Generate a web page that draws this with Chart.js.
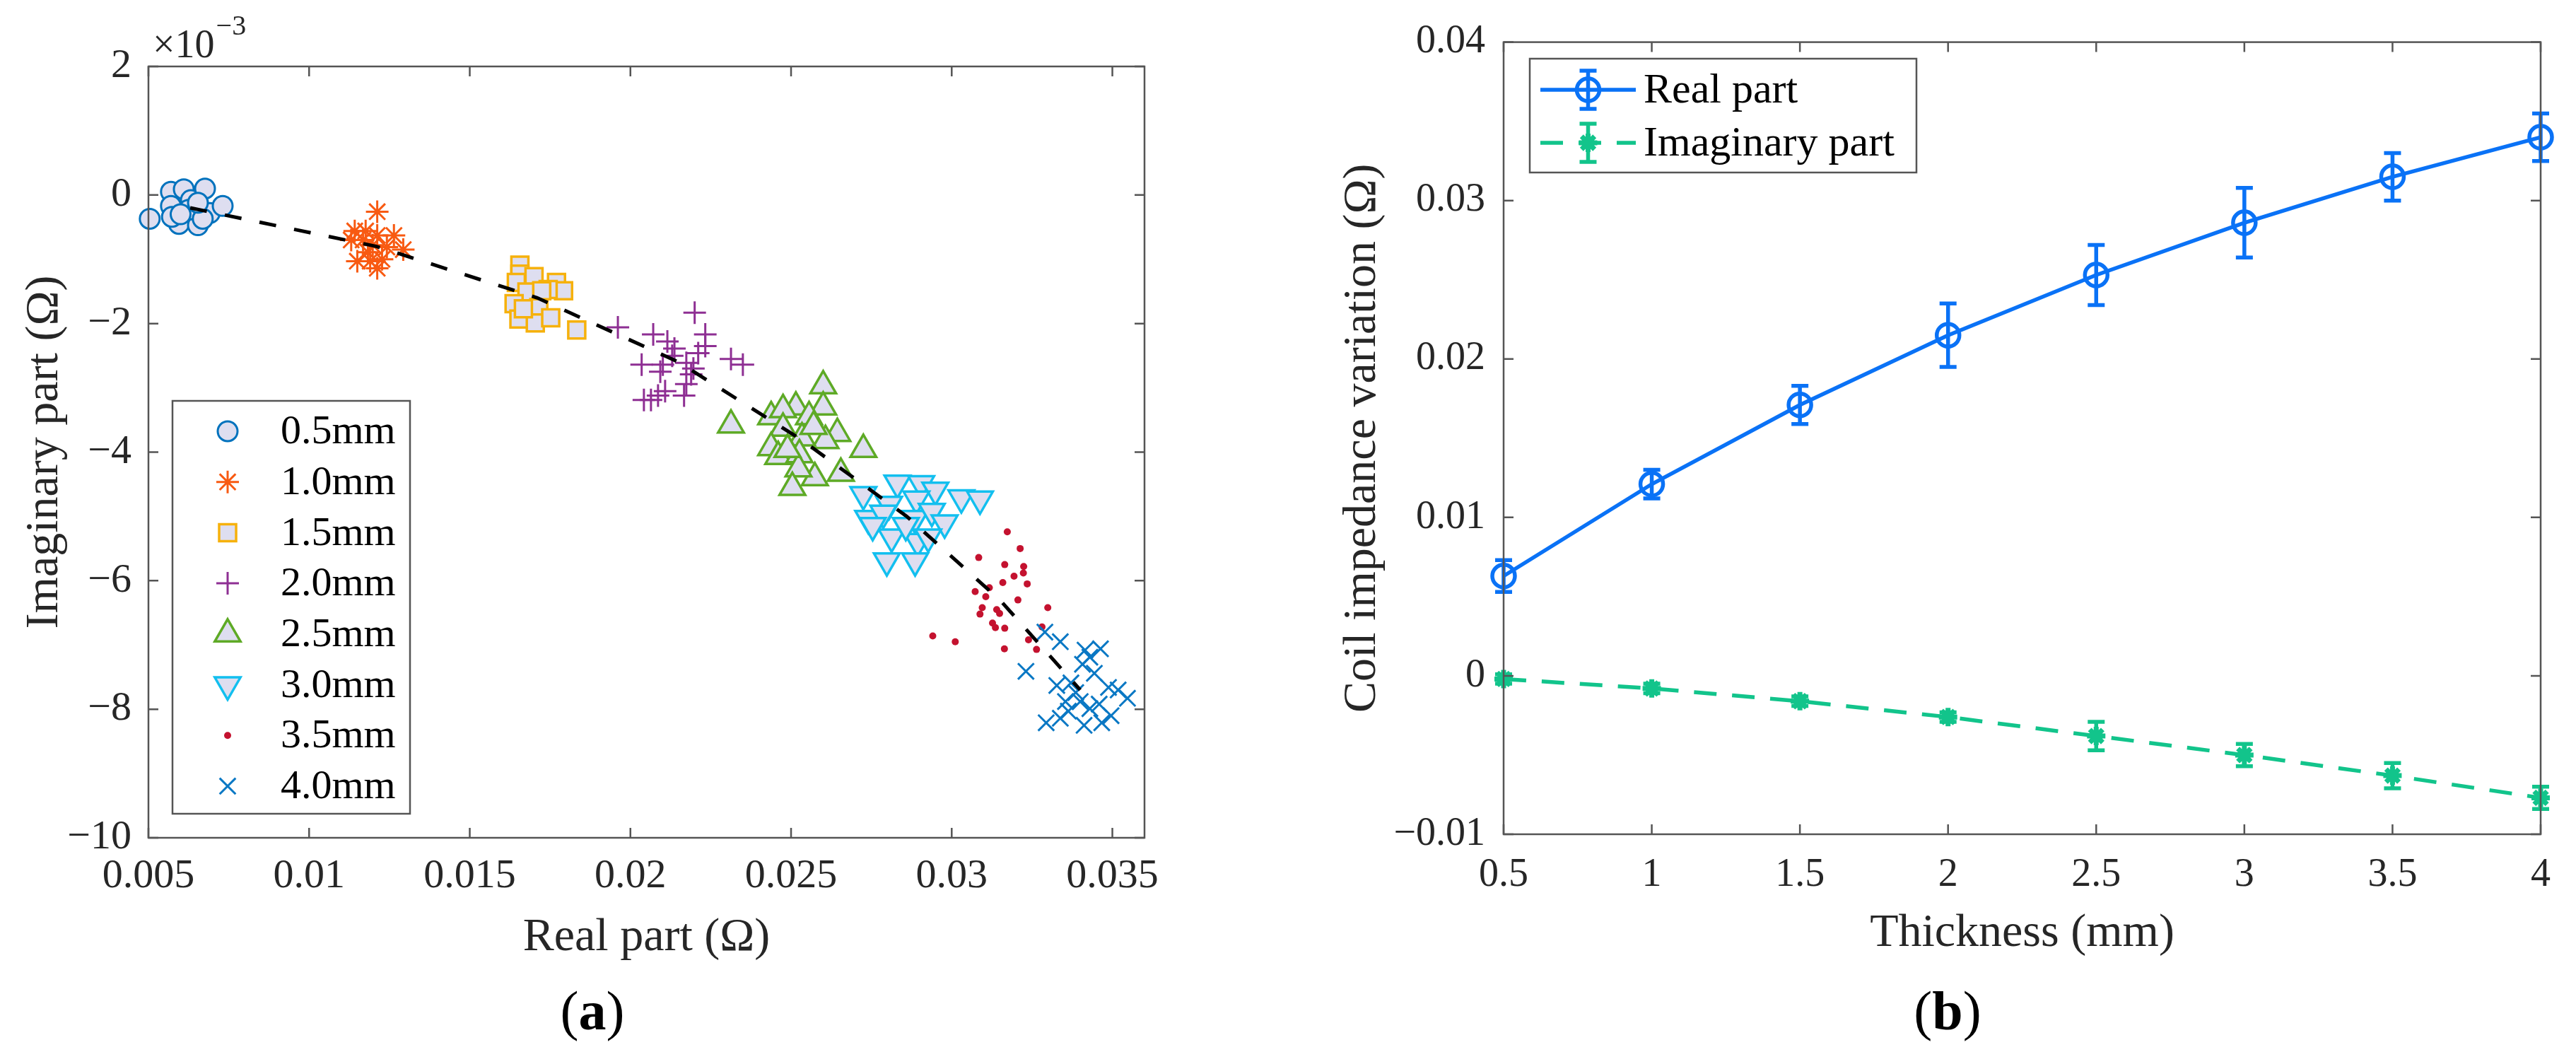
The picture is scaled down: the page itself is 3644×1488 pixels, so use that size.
<!DOCTYPE html>
<html lang="en">
<head>
<meta charset="UTF-8">
<title>Coil impedance variation vs. thickness</title>
<script src="https://cdn.jsdelivr.net/npm/chart.js@4.4.1/dist/chart.umd.min.js"></script>
<style>
  html, body { margin: 0; padding: 0; background: #fff; }
  body { width: 3644px; height: 1488px; position: relative; overflow: hidden; font-family: 'Liberation Serif', 'Times New Roman', serif; }
  canvas { position: absolute; top: 0; }
  #chartA { left: 0; }
  #chartB { left: 1800px; }
  .panel { position: absolute; top: 1391px; height: 78px; line-height: 78px; font-size: 78px; color: #000; transform: translateX(-50%); white-space: nowrap; }
</style>
</head>
<body>
<canvas id="chartA" width="1700" height="1488"></canvas>
<canvas id="chartB" width="1844" height="1488"></canvas>
<div class="panel" style="left:838px">(<b>a</b>)</div>
<div class="panel" style="left:2755px">(<b>b</b>)</div>

<script>
// ---- panel (a): measured points, real part (Ω) / imaginary part (x1e-3 Ω) ----
const re05 = [0.00504, 0.0057, 0.0061, 0.0057, 0.00632, 0.00676, 0.00595, 0.00654, 0.00691, 0.00731, 0.00573, 0.00625, 0.00669, 0.0060, 0.00654];
const im05 = [-0.37, 0.05, 0.09, -0.17, -0.08, 0.10, -0.45, -0.47, -0.28, -0.17, -0.34, -0.23, -0.37, -0.30, -0.12];

const re10 = [0.01212, 0.01142, 0.01168, 0.01212, 0.01264, 0.01293, 0.0115, 0.01212, 0.01183, 0.01242, 0.01198, 0.01131, 0.01227, 0.01176, 0.0119];
const im10 = [-0.26, -0.56, -0.70, -0.63, -0.63, -0.85, -1.03, -1.14, -0.89, -0.81, -0.78, -0.70, -1.00, -0.56, -1.03];

const re15 = [0.01656, 0.01656, 0.0170, 0.01645, 0.0177, 0.01792, 0.01744, 0.01678, 0.01638, 0.01715, 0.01653, 0.01704, 0.01752, 0.01833, 0.01724, 0.01667];
const im15 = [-1.09, -1.23, -1.27, -1.36, -1.36, -1.49, -1.47, -1.51, -1.69, -1.75, -1.93, -1.99, -1.91, -2.10, -1.49, -1.77];

const re20 = [0.01961, 0.0220, 0.02071, 0.02233, 0.02115, 0.02137, 0.02313, 0.0235, 0.02035, 0.02101, 0.02174, 0.02196, 0.02233, 0.02093, 0.02174, 0.02167, 0.02042, 0.02086, 0.02108, 0.02211, 0.0213, 0.02189, 0.02064];
const im20 = [-2.06, -1.83, -2.17, -2.17, -2.28, -2.39, -2.55, -2.64, -2.64, -2.64, -2.61, -2.70, -2.35, -2.75, -2.94, -3.12, -3.19, -3.12, -3.05, -2.46, -2.50, -2.79, -3.19];

const re25 = [0.02313, 0.0260, 0.0260, 0.02515, 0.02438, 0.02475, 0.02556, 0.02644, 0.02607, 0.02534, 0.02475, 0.02438, 0.0246, 0.02526, 0.02725, 0.02655, 0.02574, 0.02523, 0.02504, 0.02489, 0.0257];
const im25 = [-3.58, -2.97, -3.30, -3.30, -3.45, -3.34, -3.45, -3.71, -3.82, -3.78, -3.63, -3.93, -4.07, -4.04, -3.96, -4.33, -4.40, -4.26, -4.55, -3.96, -3.60];

const re30 = [0.02725, 0.02831, 0.02905, 0.02949, 0.0303, 0.03088, 0.02805, 0.0289, 0.0274, 0.02787, 0.02886, 0.02938, 0.02978, 0.02813, 0.02894, 0.02927, 0.02798, 0.02886, 0.02857, 0.02754];
const im30 = [-4.66, -4.48, -4.49, -4.59, -4.71, -4.73, -4.81, -4.73, -5.03, -4.95, -5.03, -4.92, -5.10, -5.32, -5.39, -5.32, -5.69, -5.69, -5.14, -5.14];

const re35 = [0.03173, 0.03213, 0.03084, 0.03165, 0.03224, 0.03223, 0.03194, 0.03159, 0.03235, 0.03117, 0.03073, 0.03106, 0.03206, 0.03095, 0.0314, 0.03299, 0.03088, 0.03149, 0.03127, 0.03136, 0.03165, 0.03281, 0.02941, 0.03011, 0.03239, 0.03164, 0.03264];
const im35 = [-5.24, -5.50, -5.64, -5.75, -5.78, -5.88, -5.93, -6.03, -6.05, -6.11, -6.17, -6.25, -6.30, -6.42, -6.45, -6.42, -6.52, -6.51, -6.66, -6.73, -6.74, -6.72, -6.86, -6.95, -6.92, -7.06, -7.07];

const re40 = [0.0329, 0.03338, 0.03415, 0.03463, 0.0343, 0.03407, 0.03231, 0.03444, 0.03327, 0.03371, 0.03386, 0.03518, 0.03547, 0.03459, 0.03363, 0.0343, 0.03496, 0.03294, 0.03338, 0.03412, 0.03467, 0.034, 0.03354, 0.03488];
const im40 = [-6.80, -6.95, -7.08, -7.06, -7.19, -7.30, -7.41, -7.44, -7.63, -7.59, -7.74, -7.70, -7.83, -7.92, -8.03, -7.99, -8.10, -8.21, -8.14, -8.25, -8.21, -7.88, -7.88, -7.66];

// ---- panel (b): mean and spread per thickness (Ω) ----
const thickness = [0.5, 1, 1.5, 2, 2.5, 3, 3.5, 4];
const realMean = [0.0063, 0.0121, 0.0171, 0.0215, 0.0253, 0.0286, 0.0315, 0.0340];
const realErr  = [0.0010, 0.0009, 0.0012, 0.0020, 0.0019, 0.0022, 0.0015, 0.0015];
const imagMean = [-0.0002, -0.0008, -0.0016, -0.0026, -0.0038, -0.0050, -0.0063, -0.0077];
const imagErr  = [0.0003, 0.0003, 0.0003, 0.0003, 0.0009, 0.0007, 0.0008, 0.0007];

// ---- ticks ----
const xTickA = [0.005, 0.01, 0.015, 0.02, 0.025, 0.03, 0.035];
const xLabA  = ['0.005', '0.01', '0.015', '0.02', '0.025', '0.03', '0.035'];
const yTickA = [-10, -8, -6, -4, -2, 0, 2];
const yLabA  = ['\u221210', '\u22128', '\u22126', '\u22124', '\u22122', '0', '2'];
const xTickB = [0.5, 1, 1.5, 2, 2.5, 3, 3.5, 4];
const xLabB  = ['0.5', '1', '1.5', '2', '2.5', '3', '3.5', '4'];
const yTickB = [-0.01, 0, 0.01, 0.02, 0.03, 0.04];
const yLabB  = ['\u22120.01', '0', '0.01', '0.02', '0.03', '0.04'];

const FONT = "'Liberation Serif', 'Times New Roman', serif";
const AX = '#555555';
const TXT = '#262626';
const FACE = 'rgb(222,222,240)';

// inward tick marks on all four sides + box, like MATLAB "box on"
const framePlugin = {
  id: 'frame',
  afterDatasetsDraw(chart, args, o) {
    const { ctx, chartArea: a, scales } = chart;
    const L = o.tickLen;
    ctx.save();
    ctx.strokeStyle = AX;
    ctx.lineWidth = 2.5;
    ctx.beginPath();
    scales.x.ticks.forEach(t => {
      const p = scales.x.getPixelForValue(t.value);
      ctx.moveTo(p, a.bottom); ctx.lineTo(p, a.bottom - L);
      ctx.moveTo(p, a.top); ctx.lineTo(p, a.top + L);
    });
    scales.y.ticks.forEach(t => {
      const p = scales.y.getPixelForValue(t.value);
      ctx.moveTo(a.left, p); ctx.lineTo(a.left + L, p);
      ctx.moveTo(a.right, p); ctx.lineTo(a.right - L, p);
    });
    ctx.stroke();
    ctx.strokeRect(a.left, a.top, a.right - a.left, a.bottom - a.top);
    ctx.restore();
  }
};

function setPointCtx(ctx, ds) {
  ctx.fillStyle = ds.pointBackgroundColor;
  ctx.strokeStyle = ds.pointBorderColor;
  ctx.lineWidth = ds.pointBorderWidth;
}

function pointOpts(ds) {
  return { pointStyle: ds.pointStyle, radius: ds.pointRadius, rotation: ds.pointRotation || 0, borderWidth: ds.pointBorderWidth };
}

// legend box and exponent label for panel (a)
const extrasA = {
  id: 'extrasA',
  afterDraw(chart, args, o) {
    const { ctx, chartArea: a } = chart;
    ctx.save();
    // x10^-3 exponent
    ctx.fillStyle = TXT;
    ctx.textBaseline = 'alphabetic';
    ctx.textAlign = 'left';
    ctx.font = '56px ' + FONT;
    ctx.fillText('\u00d710', a.left + 6, a.top - 13);
    const w = ctx.measureText('\u00d710').width;
    ctx.font = '40px ' + FONT;
    ctx.fillText('\u22123', a.left + 8 + w, a.top - 45);

    // legend
    const b = o.box;
    ctx.fillStyle = '#fff';
    ctx.fillRect(b.x, b.y, b.w, b.h);
    ctx.strokeStyle = AX;
    ctx.lineWidth = 2.5;
    ctx.strokeRect(b.x, b.y, b.w, b.h);
    const items = chart.data.datasets.filter(ds => ds.inLegend);
    items.forEach((ds, i) => {
      const y = b.y + o.first + i * o.step;
      setPointCtx(ctx, ds);
      Chart.helpers.drawPoint(ctx, pointOpts(ds), b.x + o.markX, y);
      ctx.fillStyle = '#000';
      ctx.font = '58px ' + FONT;
      ctx.textBaseline = 'middle';
      ctx.fillText(ds.label, b.x + o.textX, y + 2);
    });
    ctx.restore();
  }
};

// vertical error bars for panel (b)
const errorBars = {
  id: 'errorBars',
  beforeDatasetsDraw(chart, args, o) {
    const { ctx, scales: { x, y } } = chart;
    ctx.save();
    chart.data.datasets.forEach((ds, di) => {
      const errs = o.sets[di];
      ctx.strokeStyle = ds.borderColor;
      ctx.lineWidth = ds.borderWidth;
      ctx.setLineDash([]);
      ctx.beginPath();
      ds.data.forEach((p, i) => {
        const px = x.getPixelForValue(p.x);
        const top = y.getPixelForValue(p.y + errs[i]);
        const bot = y.getPixelForValue(p.y - errs[i]);
        ctx.moveTo(px, top); ctx.lineTo(px, bot);
        ctx.moveTo(px - o.cap, top); ctx.lineTo(px + o.cap, top);
        ctx.moveTo(px - o.cap, bot); ctx.lineTo(px + o.cap, bot);
      });
      ctx.stroke();
    });
    ctx.restore();
  }
};

// legend box for panel (b)
const legendB = {
  id: 'legendB',
  afterDraw(chart, args, o) {
    const { ctx } = chart;
    const b = o.box;
    ctx.save();
    ctx.fillStyle = '#fff';
    ctx.fillRect(b.x, b.y, b.w, b.h);
    ctx.strokeStyle = AX;
    ctx.lineWidth = 2.5;
    ctx.strokeRect(b.x, b.y, b.w, b.h);
    chart.data.datasets.forEach((ds, i) => {
      const y = b.y + o.first + i * o.step;
      const x0 = b.x + o.lineX0, x1 = b.x + o.lineX1, xm = (x0 + x1) / 2;
      ctx.strokeStyle = ds.borderColor;
      ctx.lineWidth = ds.borderWidth;
      ctx.setLineDash(ds.borderDash || []);
      ctx.beginPath(); ctx.moveTo(x0, y); ctx.lineTo(x1, y); ctx.stroke();
      ctx.setLineDash([]);
      ctx.beginPath();
      ctx.moveTo(xm, y - o.bar); ctx.lineTo(xm, y + o.bar);
      ctx.moveTo(xm - o.cap, y - o.bar); ctx.lineTo(xm + o.cap, y - o.bar);
      ctx.moveTo(xm - o.cap, y + o.bar); ctx.lineTo(xm + o.cap, y + o.bar);
      ctx.stroke();
      setPointCtx(ctx, ds);
      Chart.helpers.drawPoint(ctx, pointOpts(ds), xm, y);
      ctx.fillStyle = '#000';
      ctx.font = '60px ' + FONT;
      ctx.textBaseline = 'middle';
      ctx.textAlign = 'left';
      ctx.fillText(ds.label, b.x + o.textX, y + 2);
    });
    ctx.restore();
  }
};

function fixedTicks(values) {
  return scale => { scale.ticks = values.map(v => ({ value: v })); };
}

function axis(min, max, ticks, labels, tickSize, pad, title, titleSize, titlePad, fitKey, fitVal) {
  return {
    type: 'linear', min, max,
    afterBuildTicks: fixedTicks(ticks),
    afterFit: s => { s[fitKey] = fitVal; },
    grid: { display: false, drawTicks: false },
    border: { display: false },
    ticks: {
      autoSkip: false, maxRotation: 0, padding: pad, color: TXT,
      font: { family: FONT, size: tickSize },
      callback: (v, i) => labels[i]
    },
    title: { display: true, text: title, color: TXT, font: { family: FONT, size: titleSize }, padding: titlePad }
  };
}

// ---------------- panel (a) ----------------
const groups = [
  { label: '0.5mm', re: re05, im: im05, style: 'circle',   r: 14, rot: 0,   color: '#0072BD', face: FACE, bw: 3 },
  { label: '1.0mm', re: re10, im: im10, style: 'star',     r: 16, rot: 0,   color: '#F85A12', face: '#F85A12', bw: 3 },
  { label: '1.5mm', re: re15, im: im15, style: 'rect',     r: 17, rot: 0,   color: '#F6B10C', face: FACE, bw: 3.5 },
  { label: '2.0mm', re: re20, im: im20, style: 'cross',    r: 16, rot: 0,   color: '#8E2F93', face: '#8E2F93', bw: 3 },
  { label: '2.5mm', re: re25, im: im25, style: 'triangle', r: 21, rot: 0,   color: '#5EAA26', face: FACE, bw: 3.5 },
  { label: '3.0mm', re: re30, im: im30, style: 'triangle', r: 21, rot: 180, color: '#12BFEF', face: FACE, bw: 3.5 },
  { label: '3.5mm', re: re35, im: im35, style: 'circle',   r: 5,  rot: 0,   color: '#C4122F', face: '#C4122F', bw: 0 },
  { label: '4.0mm', re: re40, im: im40, style: 'crossRot', r: 16, rot: 0,   color: '#0A78C4', face: '#0A78C4', bw: 3 }
];

const datasetsA = groups.map((g, i) => ({
  label: g.label,
  inLegend: true,
  data: g.re.map((v, k) => ({ x: v, y: g.im[k] })),
  showLine: false,
  pointStyle: g.style,
  pointRadius: g.r,
  pointRotation: g.rot,
  pointBorderColor: g.color,
  pointBackgroundColor: g.face,
  pointBorderWidth: g.bw,
  clip: false,
  order: 100 - i
}));

datasetsA.push({
  label: 'mean',
  inLegend: false,
  data: realMean.map((v, k) => ({ x: v, y: imagMean[k] * 1000 })),
  showLine: true,
  borderColor: '#000',
  borderWidth: 5,
  borderDash: [24, 26],
  pointRadius: 0,
  fill: false,
  order: 0
});

new Chart(document.getElementById('chartA'), {
  type: 'scatter',
  data: { datasets: datasetsA },
  options: {
    responsive: false,
    animation: false,
    devicePixelRatio: 1,
    events: [],
    layout: { padding: { left: 0, top: 94, right: 81, bottom: 0 } },
    scales: {
      x: axis(0.005, 0.036, xTickA, xLabA, 58, 20, 'Real part (\u03a9)', 66, { top: 0, bottom: 122 }, 'height', 303),
      y: axis(-10, 2, yTickA, yLabA, 58, 24, 'Imaginary part (\u03a9)', 66, { top: 24, bottom: 0 }, 'width', 210)
    },
    plugins: {
      legend: { display: false },
      tooltip: { enabled: false },
      frame: { tickLen: 14 },
      extrasA: { box: { x: 244, y: 567, w: 336, h: 584 }, first: 43, step: 71.7, markX: 78, textX: 153 }
    }
  },
  plugins: [framePlugin, extrasA]
});

// ---------------- panel (b) ----------------
const datasetsB = [
  {
    label: 'Real part',
    data: thickness.map((t, i) => ({ x: t, y: realMean[i] })),
    showLine: true,
    borderColor: '#0A72F6',
    borderWidth: 5.5,
    pointStyle: 'circle',
    pointRadius: 16,
    pointBorderWidth: 5.5,
    pointBorderColor: '#0A72F6',
    pointBackgroundColor: 'rgba(0,0,0,0)',
    clip: false
  },
  {
    label: 'Imaginary part',
    data: thickness.map((t, i) => ({ x: t, y: imagMean[i] })),
    showLine: true,
    borderColor: '#12C48B',
    borderWidth: 5.5,
    borderDash: [32, 22],
    pointStyle: 'star',
    pointRadius: 13,
    pointBorderWidth: 7,
    pointBorderColor: '#12C48B',
    pointBackgroundColor: '#12C48B',
    clip: false
  }
];

new Chart(document.getElementById('chartB'), {
  type: 'scatter',
  data: { datasets: datasetsB },
  options: {
    responsive: false,
    animation: false,
    devicePixelRatio: 1,
    events: [],
    layout: { padding: { left: 0, top: 49, right: 50, bottom: 0 } },
    scales: {
      x: axis(0.5, 4, xTickB, xLabB, 56, 25, 'Thickness (mm)', 66, { top: 0, bottom: 128 }, 'height', 308),
      y: axis(-0.01, 0.04, yTickB, yLabB, 56, 26, 'Coil impedance variation (\u03a9)', 66, { top: 88, bottom: 0 }, 'width', 327)
    },
    plugins: {
      legend: { display: false },
      tooltip: { enabled: false },
      frame: { tickLen: 14 },
      errorBars: { sets: [realErr, imagErr], cap: 12 },
      legendB: { box: { x: 364, y: 83, w: 547, h: 161 }, first: 44, step: 75, lineX0: 15, lineX1: 150, bar: 27, cap: 12, textX: 161 }
    }
  },
  plugins: [errorBars, framePlugin, legendB]
});
</script>
</body>
</html>
